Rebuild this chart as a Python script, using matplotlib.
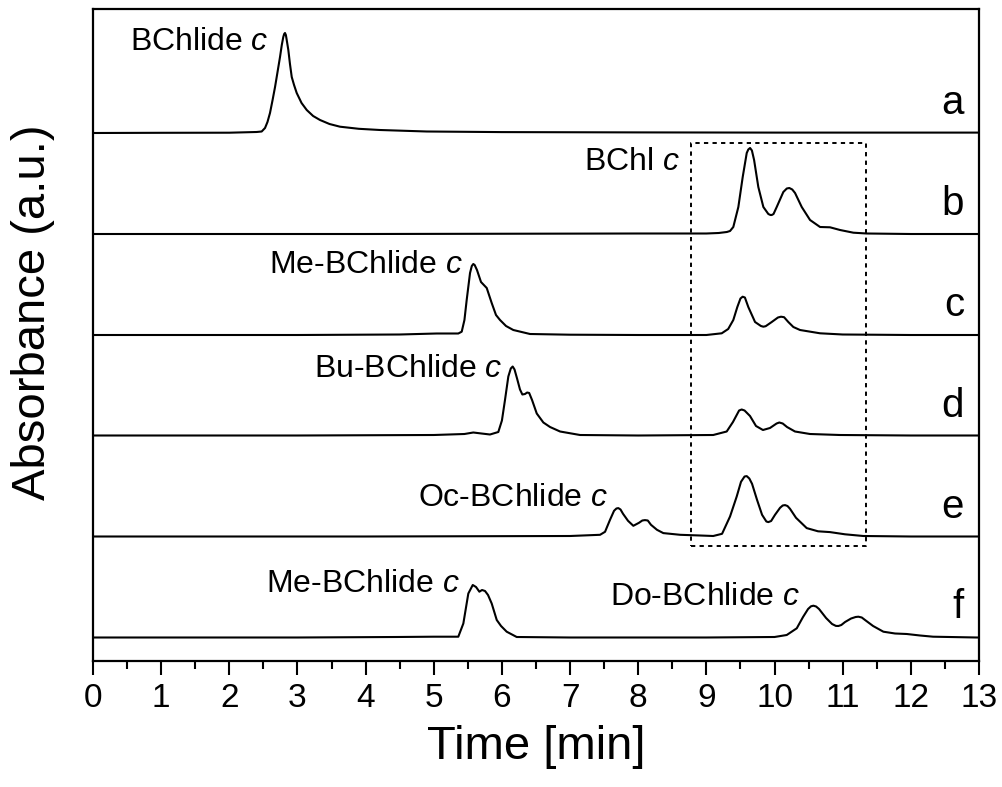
import matplotlib
matplotlib.use("Agg")
import matplotlib.pyplot as plt

plt.rcParams['font.family'] = ['Liberation Sans', 'DejaVu Sans']
plt.rcParams['mathtext.fontset'] = 'custom'
plt.rcParams['mathtext.rm'] = 'Liberation Sans'
plt.rcParams['mathtext.it'] = 'Liberation Sans:italic'

# ---- data (time in min, absorbance in a.u. above each trace's baseline) ----
time_a = [0, 1.0, 2.0, 2.4, 2.475, 2.524, 2.56, 2.597, 2.635, 2.671, 2.71, 2.744, 2.77, 2.792, 2.805,
          2.817, 2.83, 2.84, 2.866, 2.89, 2.916, 2.95, 2.989, 3.06, 3.136, 3.23, 3.331, 3.47, 3.624,
          3.9, 4.211, 4.897, 6.0, 8.0, 10.0, 13.0]
abs_a = [0, 0.002, 0.003, 0.01, 0.015, 0.05, 0.11, 0.20, 0.33, 0.46, 0.62, 0.76, 0.88, 0.96, 0.99,
         1.00, 0.98, 0.94, 0.83, 0.69, 0.56, 0.48, 0.40, 0.30, 0.23, 0.17, 0.13, 0.09, 0.063,
         0.042, 0.03, 0.015, 0.009, 0.006, 0.004, 0.004]

time_b = [0, 4, 8, 9.0, 9.18, 9.3, 9.347, 9.395, 9.469, 9.533, 9.592, 9.615, 9.641, 9.668, 9.700,
          9.762, 9.836, 9.909, 9.94, 9.959, 9.985, 10.032, 10.129, 10.18, 10.217, 10.26, 10.301,
          10.399, 10.521, 10.668, 10.814, 10.961, 11.157, 11.353, 12, 13]
abs_b = [0, 0, 0.005, 0.005, 0.01, 0.02, 0.03, 0.07, 0.27, 0.57, 0.81, 0.845, 0.86, 0.835, 0.74,
         0.47, 0.27, 0.20, 0.19, 0.19, 0.20, 0.27, 0.42, 0.455, 0.46, 0.445, 0.41,
         0.27, 0.14, 0.07, 0.067, 0.04, 0.013, 0.005, 0, 0]

time_c = [0, 3, 4.5, 5.042, 5.30, 5.36, 5.41, 5.45, 5.483, 5.532, 5.558, 5.580, 5.60, 5.634, 5.693,
          5.777, 5.85, 5.913, 5.972, 6.06, 6.167, 6.412, 7, 8, 9.0, 9.225, 9.32, 9.395, 9.454,
          9.50, 9.532, 9.565, 9.615, 9.714, 9.80, 9.836, 9.87, 9.959, 10.05, 10.095, 10.14,
          10.202, 10.276, 10.374, 10.668, 11, 12, 13]
abs_c = [0, 0, 0.005, 0.015, 0.015, 0.015, 0.033, 0.15, 0.35, 0.62, 0.69, 0.71, 0.70, 0.65, 0.53,
         0.47, 0.32, 0.20, 0.15, 0.09, 0.05, 0.01, 0.003, 0, 0, 0.017, 0.06, 0.15, 0.28,
         0.365, 0.383, 0.375, 0.28, 0.13, 0.09, 0.083, 0.088, 0.13, 0.175, 0.183, 0.178,
         0.13, 0.08, 0.05, 0.017, 0.005, 0, 0]

time_d = [0, 3, 5.0, 5.45, 5.58, 5.7, 5.825, 5.947, 6.0, 6.045, 6.094, 6.13, 6.158, 6.185, 6.222,
          6.265, 6.30, 6.339, 6.37, 6.40, 6.442, 6.511, 6.608, 6.706, 6.853, 7.146, 8, 9.1, 9.298,
          9.39, 9.48, 9.518, 9.56, 9.64, 9.728, 9.83, 9.933, 10.03, 10.07, 10.12, 10.183, 10.3,
          10.52, 10.96, 12, 13]
abs_d = [0, 0, 0.005, 0.015, 0.03, 0.02, 0.01, 0.035, 0.15, 0.355, 0.59, 0.67, 0.69, 0.66, 0.57,
         0.46, 0.41, 0.415, 0.43, 0.425, 0.355, 0.22, 0.13, 0.085, 0.04, 0.005, 0, 0.005, 0.04,
         0.135, 0.25, 0.26, 0.25, 0.195, 0.095, 0.055, 0.075, 0.12, 0.13, 0.12, 0.085, 0.04,
         0.015, 0.005, 0, 0]

time_e = [0, 4, 7.0, 7.44, 7.513, 7.586, 7.645, 7.68, 7.708, 7.74, 7.777, 7.85, 7.928, 8.011, 8.06,
          8.099, 8.14, 8.187, 8.275, 8.368, 8.616, 8.909, 9.1, 9.23, 9.347, 9.445, 9.508, 9.56,
          9.592, 9.63, 9.67, 9.743, 9.817, 9.88, 9.909, 9.95, 10.007, 10.081, 10.12, 10.154,
          10.19, 10.227, 10.315, 10.472, 10.638, 10.814, 11.034, 11.303, 12, 13]
abs_e = [0, 0, 0.005, 0.017, 0.047, 0.167, 0.257, 0.28, 0.284, 0.27, 0.227, 0.157, 0.107, 0.137,
         0.16, 0.164, 0.16, 0.117, 0.067, 0.034, 0.017, 0.01, 0.005, 0.027, 0.20, 0.40, 0.547,
         0.60, 0.604, 0.58, 0.527, 0.367, 0.217, 0.15, 0.144, 0.155, 0.217, 0.287, 0.31, 0.314,
         0.305, 0.277, 0.187, 0.084, 0.052, 0.044, 0.022, 0.005, 0, 0]

time_f = [0, 3, 4.456, 5.0, 5.36, 5.434, 5.507, 5.572, 5.62, 5.669, 5.708, 5.752, 5.796, 5.85,
          5.924, 5.987, 6.07, 6.217, 7, 9, 10.0, 10.179, 10.326, 10.418, 10.492, 10.535, 10.57,
          10.61, 10.653, 10.756, 10.844, 10.9, 10.937, 10.98, 11.035, 11.123, 11.19, 11.23, 11.28,
          11.328, 11.446, 11.597, 11.768, 11.94, 12.135, 12.326, 12.967, 13]
abs_f = [0, 0, 0.005, 0.008, 0.008, 0.14, 0.44, 0.525, 0.505, 0.458, 0.475, 0.465, 0.425, 0.34,
         0.175, 0.115, 0.058, 0.005, 0, 0, 0.005, 0.025, 0.092, 0.205, 0.285, 0.312, 0.318,
         0.31, 0.285, 0.195, 0.135, 0.116, 0.115, 0.125, 0.155, 0.19, 0.205, 0.208, 0.2,
         0.175, 0.115, 0.058, 0.04, 0.035, 0.02, 0.008, 0, 0]

trace_letters = ['a', 'b', 'c', 'd', 'e', 'f']
trace_offsets = [5.28, 4.27, 3.26, 2.255, 1.245, 0.235]

x_ticks = list(range(0, 14))
x_tick_labels = [str(v) for v in x_ticks]

# peak annotations: (text, right-edge time, baseline y)
peak_labels = [
    ("BChlide $c$", 2.57, 6.11),
    ("BChl $c$", 8.61, 4.91),
    ("Me-BChlide $c$", 5.43, 3.88),
    ("Bu-BChlide $c$", 6.00, 2.84),
    ("Oc-BChlide $c$", 7.56, 1.55),
    ("Me-BChlide $c$", 5.385, 0.69),
    ("Do-BChlide $c$", 10.37, 0.56),
]

box_t = (8.77, 11.34)
box_y = (1.15, 5.18)

# ---- figure ----
fig = plt.figure(figsize=(10.03, 7.87), dpi=100)
ax = fig.add_axes([93 / 1003, 1 - 661 / 787, (979 - 93) / 1003, (661 - 9) / 787])

times = [time_a, time_b, time_c, time_d, time_e, time_f]
absv = [abs_a, abs_b, abs_c, abs_d, abs_e, abs_f]
for t, a, off, letter in zip(times, absv, trace_offsets, trace_letters):
    ax.plot(t, [v + off for v in a], color='black', lw=1.5,
            solid_joinstyle='round', solid_capstyle='round')
    ax.text(12.78, off + 0.19, letter, ha='right', va='baseline', fontsize=29)

for txt, tx, ty in peak_labels:
    ax.text(tx, ty, txt, ha='right', va='baseline', fontsize=23)

ax.plot([box_t[0], box_t[1], box_t[1], box_t[0], box_t[0]],
        [box_y[0], box_y[0], box_y[1], box_y[1], box_y[0]],
        color='black', lw=1.4, ls=(0, (2.2, 2.2)))

ax.set_xlim(0, 13)
ax.set_ylim(0, 6.52)
ax.set_xticks(x_ticks)
ax.set_xticklabels(x_tick_labels)
ax.set_xticks([v + 0.5 for v in x_ticks[:-1]], minor=True)
ax.set_yticks([])
ax.tick_params(axis='x', which='major', direction='out', length=10, width=1.5,
               labelsize=24, pad=6)
ax.tick_params(axis='x', which='minor', direction='out', length=6, width=1.5)
for sp in ax.spines.values():
    sp.set_linewidth(1.6)

ax.set_xlabel("Time [min]", fontsize=34, labelpad=8)
fig.text(33 / 1003, 1 - 312 / 787, "Absorbance (a.u.)", rotation=90,
         ha='center', va='center', fontsize=34)

fig.savefig("out.png", dpi=100)
